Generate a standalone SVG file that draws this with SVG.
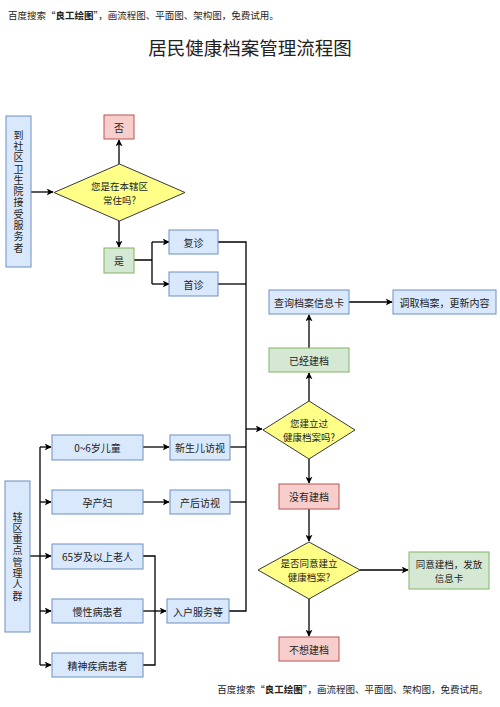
<svg xmlns="http://www.w3.org/2000/svg" width="500" height="707" viewBox="0 0 500 707">
<style>
text{font-family:"Noto Sans CJK SC","Liberation Serif",serif;fill:#222;}
.t{font-size:10px;text-anchor:middle;dominant-baseline:central;}
.m{font-size:9.5px;text-anchor:middle;dominant-baseline:central;}
.v{font-size:10px;text-anchor:middle;writing-mode:vertical-rl;letter-spacing:1.3px;}
.blue{fill:#dae8fc;stroke:#6c8ebf;stroke-width:1;}
.red{fill:#f8cecc;stroke:#b85450;stroke-width:1;}
.green{fill:#d5e8d4;stroke:#82b366;stroke-width:1;}
.dia{fill:#ffff88;stroke:#36393d;stroke-width:1;}
.c{fill:none;stroke:#000;stroke-width:1.3;}
.a{fill:none;stroke:#000;stroke-width:1.3;marker-end:url(#arr);}
</style>
<defs>
<marker id="arr" viewBox="0 0 10 10" refX="9" refY="5" markerWidth="7" markerHeight="7" orient="auto" markerUnits="userSpaceOnUse">
<path d="M0,0 L10,5 L0,10 L2.5,5 Z" fill="#000"/>
</marker>
</defs>
<rect width="500" height="707" fill="#fff"/>
<text x="8" y="19" font-size="9.5" fill="#333">百度搜索“<tspan font-weight="bold">良工绘图</tspan>”，画流程图、平面图、架构图，免费试用。</text>
<text x="250" y="55" font-size="18.5" text-anchor="middle">居民健康档案管理流程图</text>
<text x="488" y="693" font-size="9.5" text-anchor="end" fill="#333">百度搜索“<tspan font-weight="bold">良工绘图</tspan>”，画流程图、平面图、架构图，免费试用。</text>

<g id="connectors">
<path class="a" d="M31,192 L53,192"/>
<path class="a" d="M119,164 L119,140"/>
<path class="a" d="M119,221 L119,247"/>
<path class="c" d="M134,260 L152,260 M152,242 L152,284"/>
<path class="a" d="M152,242 L169,242"/>
<path class="a" d="M152,284 L169,284"/>
<path class="c" d="M218,242 L246,242 L246,611 L229,611"/>
<path class="c" d="M218,284 L246,284"/>
<path class="a" d="M246,429 L262,429"/>
<path class="a" d="M309,401 L309,373"/>
<path class="a" d="M309,348 L309,315"/>
<path class="a" d="M349,302 L392,302"/>
<path class="a" d="M309,459 L309,483"/>
<path class="a" d="M309,509 L309,541"/>
<path class="a" d="M360,570 L408,570"/>
<path class="a" d="M309,599 L309,636"/>
<path class="c" d="M40,447 L40,665"/>
<path class="a" d="M40,447 L51,447"/>
<path class="a" d="M40,502 L51,502"/>
<path class="a" d="M30,556 L51,556"/>
<path class="a" d="M40,611 L51,611"/>
<path class="a" d="M40,665 L51,665"/>
<path class="a" d="M143,447 L169,447"/>
<path class="a" d="M143,502 L169,502"/>
<path class="c" d="M143,556 L155,556 L155,665 L143,665"/>
<path class="a" d="M143,611 L166,611"/>
<path class="c" d="M230,447 L246,447"/>
<path class="c" d="M230,502 L246,502"/>
</g>

<g id="n-visitor">
<rect class="blue" x="6" y="116" width="25" height="151"/>
<text class="v" x="18.5" y="192">到社区卫生院接受服务者</text>
</g>
<g id="n-no1"><rect class="red" x="104" y="115" width="30" height="24"/><text class="t" x="119" y="127">否</text></g>
<g id="n-resident"><polygon class="dia" points="54,192.5 119.5,164 185,192.5 119.5,221"/><text class="m"><tspan x="119.5" y="185.5">您是在本辖区</tspan><tspan x="119.5" y="199.5">常住吗?</tspan></text></g>
<g id="n-yes1"><rect class="green" x="104" y="248" width="30" height="25"/><text class="t" x="119" y="260.5">是</text></g>
<g id="n-revisit"><rect class="blue" x="169" y="230" width="49" height="24"/><text class="t" x="193.5" y="242">复诊</text></g>
<g id="n-first"><rect class="blue" x="169" y="272" width="49" height="24"/><text class="t" x="193.5" y="284">首诊</text></g>
<g id="n-query"><rect class="blue" x="269" y="290" width="80" height="24"/><text class="t" x="309" y="302">查询档案信息卡</text></g>
<g id="n-update"><rect class="blue" x="393" y="290" width="103" height="24"/><text class="t" x="444.5" y="302">调取档案，更新内容</text></g>
<g id="n-hasfile"><rect class="green" x="269" y="348" width="80" height="24"/><text class="t" x="309" y="360">已经建档</text></g>
<g id="n-built"><polygon class="dia" points="263,430 309,401 355,430 309,459"/><text class="m"><tspan x="309" y="423">您建立过</tspan><tspan x="309" y="437">健康档案吗?</tspan></text></g>
<g id="n-nofile"><rect class="red" x="279" y="484" width="60" height="25"/><text class="t" x="309" y="496.5">没有建档</text></g>
<g id="n-agree"><polygon class="dia" points="258,570 309,542 360,570 309,599"/><text class="m"><tspan x="309" y="563">是否同意建立</tspan><tspan x="309" y="577">健康档案?</tspan></text></g>
<g id="n-issue"><rect class="green" x="409" y="552" width="80" height="37"/><text class="m"><tspan x="449" y="563.5">同意建档，发放</tspan><tspan x="449" y="577.5">信息卡</tspan></text></g>
<g id="n-refuse"><rect class="red" x="279" y="637" width="60" height="24"/><text class="t" x="309" y="649">不想建档</text></g>

<g id="n-key">
<rect class="blue" x="5" y="481" width="25" height="151"/>
<text class="v" x="17.5" y="557">辖区重点管理人群</text>
</g>
<g id="n-child"><rect class="blue" x="52" y="435" width="91" height="25"/><text class="t" x="97.5" y="447.5">0~6岁儿童</text></g>
<g id="n-preg"><rect class="blue" x="52" y="490" width="91" height="24"/><text class="t" x="97.5" y="502">孕产妇</text></g>
<g id="n-elder"><rect class="blue" x="52" y="544" width="91" height="25"/><text class="t" x="97.5" y="556.5">65岁及以上老人</text></g>
<g id="n-chronic"><rect class="blue" x="52" y="599" width="91" height="24"/><text class="t" x="97.5" y="611">慢性病患者</text></g>
<g id="n-mental"><rect class="blue" x="52" y="653" width="91" height="24"/><text class="t" x="97.5" y="665">精神疾病患者</text></g>
<g id="n-newborn"><rect class="blue" x="170" y="435" width="60" height="25"/><text class="t" x="200" y="447.5">新生儿访视</text></g>
<g id="n-postnatal"><rect class="blue" x="170" y="490" width="60" height="24"/><text class="t" x="200" y="502">产后访视</text></g>
<g id="n-home"><rect class="blue" x="167" y="599" width="62" height="24"/><text class="t" x="198" y="611">入户服务等</text></g>
</svg>
